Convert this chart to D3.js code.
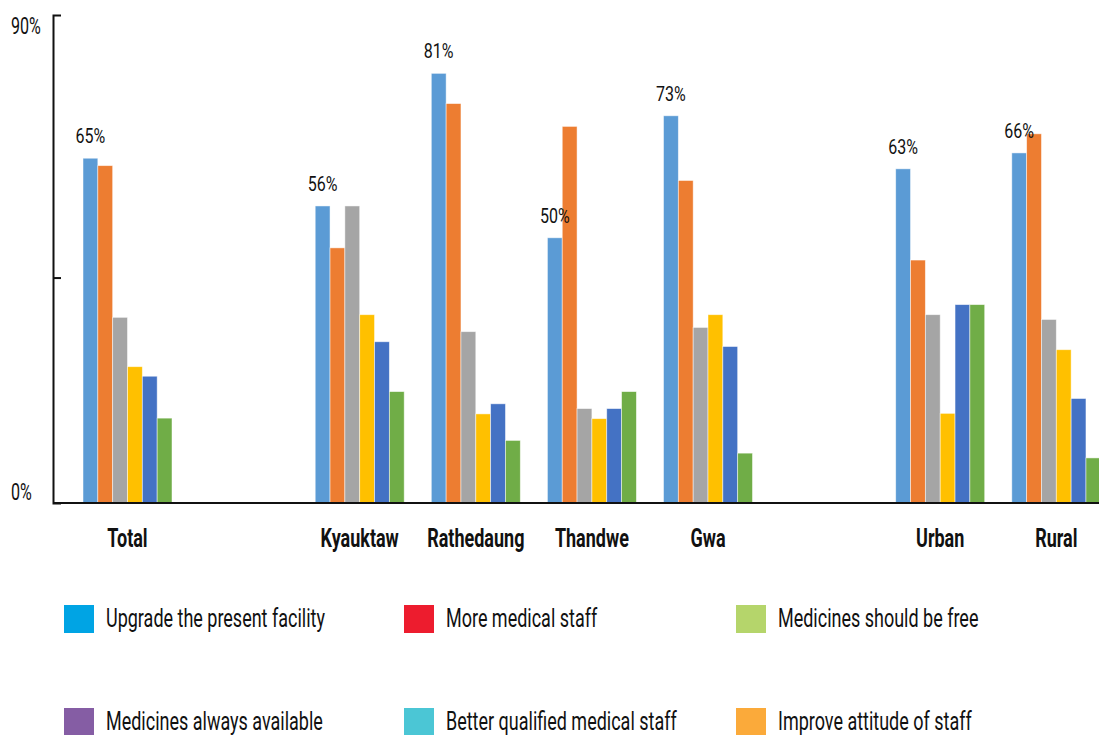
<!DOCTYPE html>
<html>
<head>
<meta charset="utf-8">
<script src="https://cdn.jsdelivr.net/npm/d3@7"></script>
<style>
  body { margin: 0; background: #fff; }
  text { font-family: Roboto, "DejaVu Sans", sans-serif; fill: #111; }
</style>
</head>
<body>
<div id="chart"></div>
<script>
// categories, with two empty slots used as gaps between the blocks
var categories = ["Total", "Kyauktaw", "Rathedaung", "Thandwe", "Gwa", "Urban", "Rural"];
var slots = ["Total", "gap1", "Kyauktaw", "Rathedaung", "Thandwe", "Gwa", "gap2", "Urban", "Rural"];

// series values (%), one value per category
var upgrade   = [65, 56, 81, 50, 73, 63, 66];
var moreStaff = [63.6, 48.1, 75.3, 71.0, 60.8, 45.8, 69.6];
var free      = [35.0, 56, 32.3, 17.8, 33.1, 35.5, 34.6];
var available = [25.7, 35.5, 16.8, 15.9, 35.5, 16.9, 28.9];
var qualified = [23.9, 30.4, 18.7, 17.8, 29.5, 37.4, 19.7];
var attitude  = [16.0, 21.0, 11.8, 21.0, 9.4, 37.4, 8.5];

var seriesValues = [upgrade, moreStaff, free, available, qualified, attitude];
var barColors = ["#5B9BD5", "#ED7D31", "#A5A5A5", "#FFC000", "#4472C4", "#70AD47"];

// legend (as printed in the source, with its own colours)
var legendNames = ["Upgrade the present facility", "More medical staff", "Medicines should be free",
                   "Medicines always available", "Better qualified medical staff", "Improve attitude of staff"];
var legendColors = ["#00A4E4", "#ED1C2E", "#B5D56B", "#855DA4", "#4BC6D5", "#FBAA3A"];

// axis labels
var yLabelValues = [0, 90];

var width = 1099, height = 735;

var svg = d3.select("#chart")
    .append("svg")
    .attr("width", width)
    .attr("height", height);

var yScale = d3.scaleLinear().domain([0, 92]).range([503, 15]);
var x0 = d3.scaleBand().domain(slots).range([83, 83 + 9 * 116.1]);
var x1 = d3.scaleBand().domain(d3.range(seriesValues.length)).range([0, 89]);

// no condensed face installed: squeeze the text horizontally instead
function condensed(sel, sx, x, y) {
    sel.attr("transform", "scale(" + sx + ",1)")
       .attr("x", (d, i) => (typeof x === "function" ? x(d, i) : x) / sx)
       .attr("y", y);
}

// bars
var groups = svg.selectAll("g.group")
    .data(categories)
    .enter()
    .append("g")
    .attr("class", "group")
    .attr("transform", d => "translate(" + x0(d) + ",0)");

groups.selectAll("rect")
    .data((d, ci) => seriesValues.map((s, si) => ({si: si, v: s[ci]})))
    .enter()
    .append("rect")
    .attr("x", d => x1(d.si))
    .attr("width", x1.bandwidth())
    .attr("y", d => yScale(d.v))
    .attr("height", d => yScale(0) - yScale(d.v))
    .style("fill", d => barColors[d.si])
    .style("stroke", "#fff")
    .style("stroke-opacity", 0.6)
    .style("stroke-width", 0.8);

// value labels on the first series
groups.append("text")
    .attr("text-anchor", "middle")
    .attr("font-size", "20px")
    .text((d, i) => upgrade[i] + "%")
    .call(condensed, 0.8, x1(0) + x1.bandwidth() / 2, (d, i) => yScale(upgrade[i]) - 15);

// category labels
groups.append("text")
    .attr("text-anchor", "middle")
    .attr("font-size", "25px")
    .style("font-weight", "bold")
    .text(d => d)
    .call(condensed, 0.72, 44.5, 547);

// y axis: line with two tick marks pointing inside
var yAxis = d3.axisLeft(yScale).tickValues([42.5]).tickSize(-8).tickSizeOuter(-8).tickFormat("");
svg.append("g")
    .attr("transform", "translate(53,0)")
    .call(yAxis)
    .call(g => g.selectAll("path, line").attr("stroke", "#111").attr("stroke-width", 2));

svg.selectAll("text.ylab")
    .data(yLabelValues)
    .enter()
    .append("text")
    .attr("class", "ylab")
    .attr("font-size", "23px")
    .text(d => d + "%")
    .call(condensed, 0.7, 11, d => d === 0 ? yScale(d) - 3 : yScale(d) + 8);

// baseline across the whole width
svg.append("line")
    .attr("x1", 53).attr("x2", width)
    .attr("y1", yScale(0)).attr("y2", yScale(0))
    .attr("stroke", "#111")
    .attr("stroke-width", 2);

// legend, 3 columns x 2 rows
var legendX = [64, 404, 736];
var legend = svg.selectAll("g.legend")
    .data(legendNames)
    .enter()
    .append("g")
    .attr("class", "legend")
    .attr("transform", (d, i) => "translate(" + legendX[i % 3] + "," + (605 + Math.floor(i / 3) * 103) + ")");

legend.append("rect")
    .attr("width", 30)
    .attr("height", 28)
    .style("fill", (d, i) => legendColors[i]);

legend.append("text")
    .attr("font-size", "25px")
    .text(d => d)
    .call(condensed, 0.72, 42, 22);
</script>
</body>
</html>
